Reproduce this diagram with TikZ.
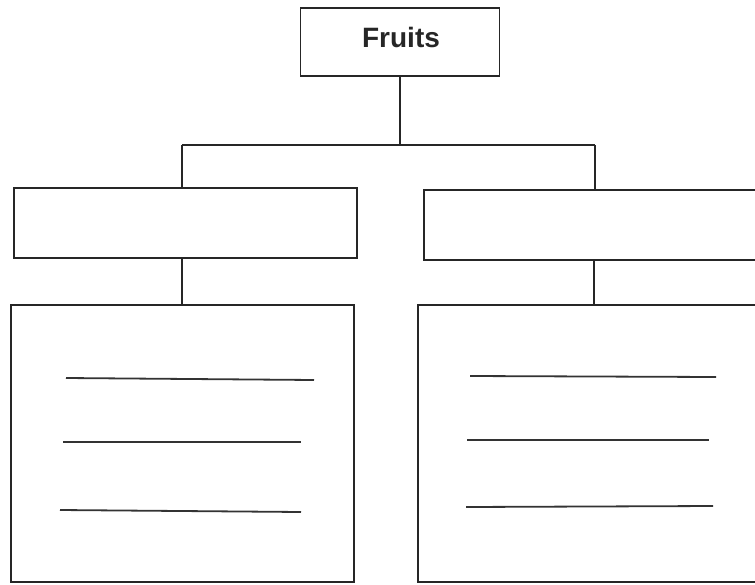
\documentclass[tikz,border=0pt]{standalone}
\usepackage{fontspec}
\setmainfont{Liberation Sans}
\begin{document}
\begin{tikzpicture}[x=1pt,y=-1pt,
  box/.style={draw=black!85, line width=1.6pt, rectangle, inner sep=0pt},
  conn/.style={draw=black!85, line width=1.6pt},
  rule/.style={draw=black!80, line width=1.8pt}]
\useasboundingbox (0,0) rectangle (755,584);
\clip (0,0) rectangle (755,584);
% boxes
\node[box, minimum width=199pt, minimum height=68pt] (top) at (400,42) {};
\node[font=\bfseries\fontsize{28}{32}\selectfont, inner sep=0pt, text=black!85] (lbl) at (401,37) {Fruits};
\node[box, minimum width=343pt, minimum height=70pt] (lm) at (185.5,223) {};
\node[box, minimum width=345pt, minimum height=70pt] (rm) at (596.5,225) {};
\node[box, minimum width=343pt, minimum height=277pt] (lb) at (182.5,443.5) {};
\node[box, minimum width=356pt, minimum height=277pt] (rb) at (596,443.5) {};
% connectors
\coordinate (bl) at (182,145);
\coordinate (br) at (595,145);
\draw[conn] (top.south) -- (top.south |- bl);
\draw[conn] (bl) -- (br);
\draw[conn] (bl) -- (bl |- lm.north);
\draw[conn] (br) -- (br |- rm.north);
\draw[conn] (bl |- lm.south) -- (bl |- lb.north);
\draw[conn] (594,260) -- (594,305);
% writing lines
\draw[rule] (66,378) -- (314,380);
\draw[rule] (63,442) -- (301,442);
\draw[rule] (60,510) -- (301,512);
\draw[rule] (470,376) -- (716,377);
\draw[rule] (467,440) -- (709,440);
\draw[rule] (466,507) -- (713,506);
\end{tikzpicture}
\end{document}
